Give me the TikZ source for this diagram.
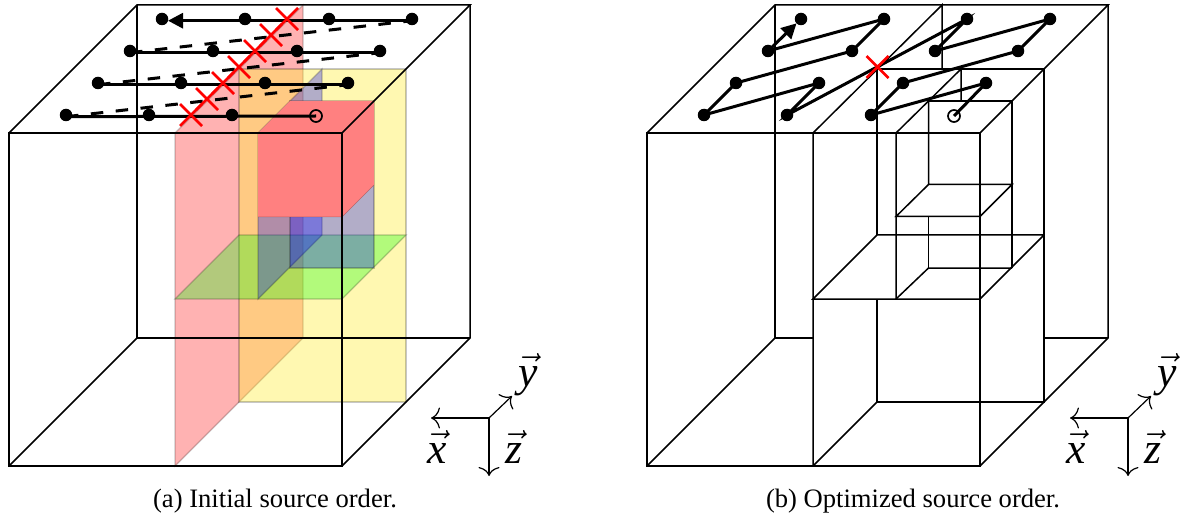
\documentclass[tikz,border=0pt]{standalone}
\usepackage{fontspec}
\setmainfont{Liberation Serif}
\usetikzlibrary{arrows.meta,shapes.misc}
\definecolor{plred}{RGB}{255,0,0}
\definecolor{plyellow}{RGB}{255,238,60}
\definecolor{plgreen}{RGB}{0,255,0}
\definecolor{plblue}{RGB}{0,0,255}
\definecolor{cubered}{RGB}{255,128,128}
\tikzset{
  boxline/.style={draw=black,line width=1.5pt,line join=miter},
  plane/.style={fill=#1,fill opacity=0.3,draw=black,draw opacity=0.22,line width=1.1pt},
  yplane/.style={fill=plyellow,fill opacity=0.4,draw=black,draw opacity=0.22,line width=1.1pt},
  dotmark/.style={circle,fill=black,inner sep=0pt,outer sep=0pt,minimum size=12.5pt},
  startmark/.style={circle,draw=black,line width=1.7pt,inner sep=0pt,outer sep=0pt,minimum size=12pt},
  crossmark/.style={cross out,draw=red,line width=2.6pt,inner sep=0pt,outer sep=0pt,minimum size=22pt},
  route/.style={draw=black,line width=3pt},
  jump/.style={route,dash pattern=on 12.5pt off 12.5pt},
  headtip/.style={-{Triangle[length=15pt,width=15pt]}},
  axis/.style={draw=black,line width=1.2pt,-{Computer Modern Rightarrow[length=9pt,width=21pt]}},
  caplabel/.style={font=\fontsize{26.6}{30}\selectfont,inner sep=0pt},
  axlabel/.style={inner sep=0pt,anchor=base,scale=1.75,font=\fontsize{24.88}{26}\selectfont}
}
\newcommand{\axisset}[2]{%
  \begin{scope}[xshift=#1pt]
    \coordinate (o#2) at (489,418);
    \coordinate (x#2) at (431,418);
    \coordinate (y#2) at (512,396);
    \coordinate (z#2) at (489,476);
    \draw[axis] (o#2) -- (x#2);
    \draw[axis] (o#2) -- (y#2);
    \draw[axis] (o#2) -- (z#2);
    \node[axlabel] (lx#2) at (437,463) {$\vec{\textit{x}}$};
    \node[axlabel] (ly#2) at (528,386) {$\vec{\textit{y}}$};
    \node[axlabel] (lz#2) at (514,463) {$\vec{\textit{z}}$};
  \end{scope}}
\begin{document}
\begin{tikzpicture}[x=1pt,y=-1pt]
\useasboundingbox (0,0) rectangle (1182,521);
% ---------- (a) planes
\path[plane=plred] (175,133) -- (303,5) -- (303,338) -- (175,466) -- cycle;
\path[yplane] (239,69) -- (406,69) -- (406,402) -- (239,402) -- cycle;
\path[plane=plgreen] (175,299) -- (342,299) -- (406,235) -- (239,235) -- cycle;
\path[plane=plblue] (258,133) -- (322,69) -- (322,235) -- (258,299) -- cycle;
\path[plane=plblue] (290,101) -- (374,101) -- (374,268) -- (290,268) -- cycle;
\path[fill=cubered] (258,133) -- (290,101) -- (374,101) -- (374,185) -- (342,217) -- (258,217) -- cycle;
\path[draw=black,draw opacity=0.25,line width=0.5pt] (374,185) -- (342,217) -- (258,217);
% ---------- (a) box
\draw[boxline] (9,133) rectangle (342,466);
\draw[boxline] (9,133) -- (137,5) -- (470,5) -- (342,133);
\draw[boxline] (470,5) -- (470,338) -- (342,466);
\draw[boxline] (137,5) -- (137,338) -- (470,338);
\draw[boxline] (137,338) -- (9,466);
% ---------- (a) order
\node[dotmark] (a11) at (162,19) {};
\node[dotmark] (a12) at (245,19) {};
\node[dotmark] (a13) at (329,19) {};
\node[dotmark] (a14) at (412,19) {};
\node[dotmark] (a21) at (130,51) {};
\node[dotmark] (a22) at (213,51) {};
\node[dotmark] (a23) at (297,51) {};
\node[dotmark] (a24) at (380,51) {};
\node[dotmark] (a31) at (98,83) {};
\node[dotmark] (a32) at (181,83) {};
\node[dotmark] (a33) at (265,83) {};
\node[dotmark] (a34) at (348,83) {};
\node[dotmark] (a41) at (66,115) {};
\node[dotmark] (a42) at (149,115) {};
\node[dotmark] (a43) at (232,115) {};
\node[startmark] (a44) at (316,116) {};
\draw[route] (a44.center) -- ([yshift=-1.7pt]a41.center);
\draw[jump] ([yshift=-1.7pt]a41.center) -- ([yshift=-1.7pt]a34.center);
\draw[route] ([yshift=-1.7pt]a34.center) -- ([yshift=-1.7pt]a31.center);
\draw[jump] ([yshift=-1.7pt]a31.center) -- ([yshift=-1.7pt]a24.center);
\draw[route] ([yshift=-1.7pt]a24.center) -- ([yshift=-1.7pt]a21.center);
\draw[jump] ([yshift=-1.7pt]a21.center) -- ([yshift=-1.7pt]a14.center);
\draw[route,headtip] ([yshift=-1.7pt]a14.center) -- ([yshift=-1.7pt,xshift=6pt]a11.center);
\node[crossmark] (c1) at (287,19) {};
\node[crossmark] (c2) at (271,35) {};
\node[crossmark] (c3) at (255,51) {};
\node[crossmark] (c4) at (239,67) {};
\node[crossmark] (c5) at (223,83) {};
\node[crossmark] (c6) at (207,99) {};
\node[crossmark] (c7) at (191,115) {};
\axisset{0}{a}
\node[caplabel] (capa) at (275,501) {(a) Initial source order.};
% ---------- (b) box
\draw[boxline] (647,133) rectangle (980,466);
\draw[boxline] (647,133) -- (775,5) -- (1108,5) -- (980,133);
\draw[boxline] (1108,5) -- (1108,338) -- (980,466);
\draw[boxline] (775,5) -- (775,338) -- (813,338);
\draw[boxline] (1044,338) -- (1108,338);
\draw[boxline] (775,338) -- (647,466);
% ---------- (b) cuts
\draw[boxline] (813,466) -- (813,133) -- (942,5) -- (942,69);
\draw[boxline] (877,235) -- (877,69) -- (1044,69) -- (1044,402) -- (877,402) -- (877,299);
\draw[boxline] (877,402) -- (813,466);
\draw[boxline] (1044,235) -- (877,235) -- (813,299) -- (980,299) -- (1044,235);
\draw[boxline] (896,299) -- (896,133) -- (961,69) -- (961,101);
\draw[boxline] (896,299) -- (928.5,268) -- (1012,268);
\draw[boxline] (1012,101) -- (1012,268);
\draw[boxline] (928.5,268) -- (928.5,217);
\draw[boxline] (928.5,101) -- (1012,101);
\draw[boxline] (928.5,101) -- (928.5,184.5) -- (1012,184.5) -- (980,216.5) -- (896,216.5) -- (928.5,184.5);
% ---------- (b) order
\node[dotmark] (b11) at (801,19) {};
\node[dotmark] (b12) at (884,19) {};
\node[dotmark] (b13) at (967,19) {};
\node[dotmark] (b14) at (1050,19) {};
\node[dotmark] (b21) at (768,51) {};
\node[dotmark] (b22) at (852,51) {};
\node[dotmark] (b23) at (935,51) {};
\node[dotmark] (b24) at (1018,51) {};
\node[dotmark] (b31) at (736,83) {};
\node[dotmark] (b32) at (819,83) {};
\node[dotmark] (b33) at (903,83) {};
\node[dotmark] (b34) at (986,83) {};
\node[dotmark] (b41) at (704,115) {};
\node[dotmark] (b42) at (787,115) {};
\node[dotmark] (b43) at (871,115) {};
\node[startmark] (b44) at (954,116) {};
\draw[route] (b44.center) -- (b34.center) -- (b43.center) -- (b33.center) -- (b24.center) -- (b14.center) -- (b23.center) -- (b13.center) -- (b42.center) -- (b32.center) -- (b41.center) -- (b31.center) -- (b22.center) -- (b12.center) -- (b21.center);
\draw[route,headtip] (b21.center) -- (b11);
\node[crossmark] (c8) at (877.5,67) {};
\axisset{639}{b}
\node[caplabel] (capb) at (913,501) {(b) Optimized source order.};
\end{tikzpicture}
\end{document}
